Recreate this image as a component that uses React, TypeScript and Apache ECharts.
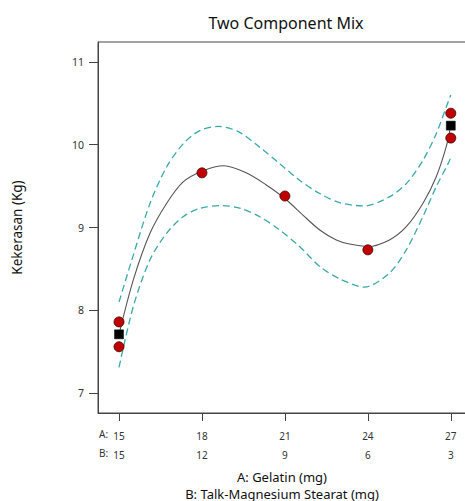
import React, { useEffect, useRef } from "react";
import * as echarts from "echarts";

const title = "Two Component Mix";
const yAxisName = "Kekerasan (Kg)";
const xAxisNameA = "A: Gelatin (mg)";
const xAxisNameB = "B: Talk-Magnesium Stearat (mg)";

const tickA = [15, 18, 21, 24, 27];
const tickB = [15, 12, 9, 6, 3];
const yTicks = [7, 8, 9, 10, 11];

// fitted curve
const fitX = [15, 15.52, 16.12, 16.72, 17.32, 18, 18.8, 19.6, 20.3, 21, 21.65, 22.26, 22.86, 23.34, 24, 24.78, 25.39, 25.99, 26.47, 26.83, 27];
const fitY = [7.71, 8.37, 8.93, 9.29, 9.55, 9.68, 9.745, 9.66, 9.52, 9.35, 9.15, 8.97, 8.85, 8.8, 8.77, 8.85, 9.01, 9.29, 9.61, 9.97, 10.23];

// upper confidence band
const upX = [15, 15.52, 16.12, 16.72, 17.32, 17.92, 18.6, 19.3, 20.09, 20.81, 21.53, 22.26, 22.98, 23.88, 24.78, 25.39, 25.99, 26.47, 26.93, 27];
const upY = [8.1, 8.67, 9.29, 9.73, 10.01, 10.17, 10.22, 10.16, 9.97, 9.77, 9.57, 9.41, 9.3, 9.26, 9.37, 9.53, 9.81, 10.13, 10.54, 10.6];

// lower confidence band
const loX = [15, 15.52, 16.12, 16.72, 17.32, 17.92, 18.7, 19.4, 20.09, 20.81, 21.53, 22.26, 22.98, 23.88, 24.78, 25.39, 25.99, 26.47, 26.93, 27];
const loY = [7.31, 8.05, 8.61, 8.93, 9.13, 9.23, 9.265, 9.23, 9.13, 8.97, 8.77, 8.53, 8.38, 8.28, 8.45, 8.73, 9.13, 9.49, 9.79, 9.85];

// observed design points
const obsX = [15, 15, 18, 21, 24, 27, 27];
const obsY = [7.86, 7.56, 9.66, 9.38, 8.73, 10.38, 10.08];

// replicate means
const meanX = [15, 27];
const meanY = [7.71, 10.23];

const zip = (xs: number[], ys: number[]) => xs.map((x, i) => [x, ys[i]]);

const FONT = "Noto Sans";

export default function App() {
  const ref = useRef<HTMLDivElement>(null);
  useEffect(() => {
    if (!ref.current) return;
    const chart = echarts.init(ref.current, null, { renderer: "svg" });
    const dashColor = "#3aa8ab";
    chart.setOption({
      animation: false,
      backgroundColor: "#ffffff",
      textStyle: { fontFamily: FONT },
      title: {
        text: title,
        left: 281,
        top: 10,
        textAlign: "center",
        textStyle: { fontFamily: FONT, fontSize: 16, fontWeight: "normal", color: "#111" },
      },
      grid: {
        left: 98,
        top: 42,
        width: 368,
        height: 371,
        outerBoundsMode: "none",
        containLabel: false,
        show: true,
        borderColor: "#444",
        borderWidth: 1,
        backgroundColor: "transparent",
      },
      xAxis: {
        type: "value",
        min: 14.24,
        max: 27.55,
        name: xAxisNameA + "\n" + xAxisNameB,
        nameLocation: "middle",
        nameGap: 44,
        nameTextStyle: { fontFamily: FONT, fontSize: 13, color: "#111", lineHeight: 17, verticalAlign: "top" },
        axisLine: { show: true, onZero: false, lineStyle: { color: "#444", width: 1 } },
        axisTick: { show: true, length: 8, lineStyle: { color: "#444" }, customValues: tickA },
        splitLine: { show: false },
        axisLabel: {
          customValues: tickA,
          margin: 13,
          fontFamily: FONT,
          fontSize: 10,
          color: "#333",
          lineHeight: 19,
          formatter: (v: number) => {
            const i = tickA.indexOf(Math.round(v));
            return `${tickA[i]}\n${tickB[i]}`;
          },
        },
      },
      yAxis: {
        type: "value",
        min: 6.76,
        max: 11.24,
        name: yAxisName,
        nameLocation: "middle",
        nameGap: 74,
        nameTextStyle: { fontFamily: FONT, fontSize: 13.5, color: "#111" },
        axisLine: { show: true, lineStyle: { color: "#444", width: 1 } },
        axisTick: { show: true, length: 9, lineStyle: { color: "#444" }, customValues: yTicks },
        splitLine: { show: false },
        axisLabel: { customValues: yTicks, margin: 14, fontFamily: FONT, fontSize: 10.5, color: "#333" },
      },
      graphic: [
        { type: "text", left: 99, top: 429, style: { text: "A:", fontFamily: FONT, fontSize: 10, fill: "#333" } },
        { type: "text", left: 99, top: 448, style: { text: "B:", fontFamily: FONT, fontSize: 10, fill: "#333" } },
      ],
      series: [
        {
          type: "line",
          data: zip(upX, upY),
          smooth: 0.3,
          showSymbol: false,
          lineStyle: { color: dashColor, width: 1.3, type: [7, 4] },
          z: 2,
        },
        {
          type: "line",
          data: zip(loX, loY),
          smooth: 0.3,
          showSymbol: false,
          lineStyle: { color: dashColor, width: 1.3, type: [7, 4] },
          z: 2,
        },
        {
          type: "line",
          data: zip(fitX, fitY),
          smooth: 0.3,
          showSymbol: false,
          lineStyle: { color: "#555", width: 1.1 },
          z: 3,
        },
        {
          type: "scatter",
          data: zip(meanX, meanY),
          symbol: "rect",
          symbolSize: 9,
          itemStyle: { color: "#000", borderColor: "#000", borderWidth: 0.5, opacity: 1 },
          z: 4,
        },
        {
          type: "scatter",
          data: zip(obsX, obsY),
          symbol: "circle",
          symbolSize: 10,
          itemStyle: { color: "#c00000", borderColor: "#3a0000", borderWidth: 0.8, opacity: 1 },
          z: 5,
        },
      ],
    });
    return () => chart.dispose();
  }, []);
  return <div ref={ref} style={{ width: 465, height: 501, position: "absolute", left: 0, top: 0 }} />;
}
